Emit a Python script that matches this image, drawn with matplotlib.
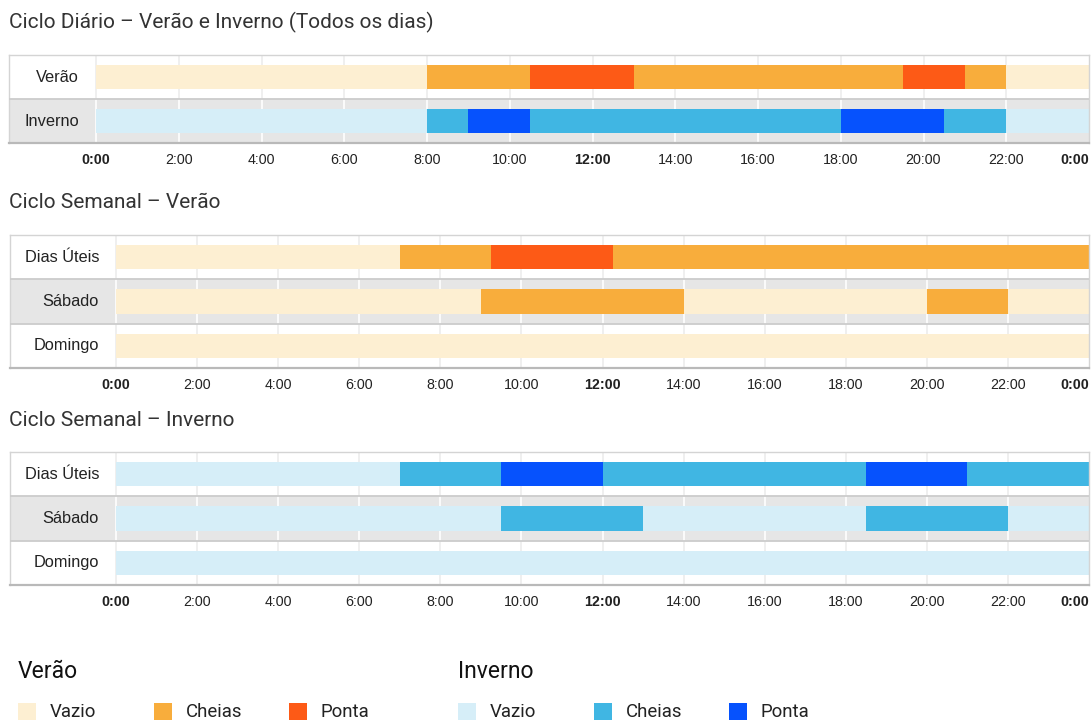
import matplotlib
matplotlib.use("Agg")
import matplotlib.pyplot as plt
from matplotlib import font_manager
from matplotlib.patches import Rectangle

W, H, DPI = 1092, 721, 100

# Hour axis
hour_ticks = list(range(0, 25, 2))
hour_labels = [f"{h % 24}:00" for h in hour_ticks]

# Tariff periods and colours
tariffs = ["Vazio", "Cheias", "Ponta"]
verao_colors = {"Vazio": "#fdefd2", "Cheias": "#f8ad3c", "Ponta": "#fd5a16"}
inverno_colors = {"Vazio": "#d6eef8", "Cheias": "#40b6e3", "Ponta": "#0652fd"}

# Ciclo diário (todos os dias)
diario_rows = ["Verão", "Inverno"]
diario_verao_horas = [0, 8, 10.5, 13, 19.5, 21, 22, 24]
diario_verao_periodos = ["Vazio", "Cheias", "Ponta", "Cheias", "Ponta", "Cheias", "Vazio"]
diario_inverno_horas = [0, 8, 9, 10.5, 18, 20.5, 22, 24]
diario_inverno_periodos = ["Vazio", "Cheias", "Ponta", "Cheias", "Ponta", "Cheias", "Vazio"]

# Ciclo semanal
semana_rows = ["Dias Úteis", "Sábado", "Domingo"]

sem_verao_uteis_horas = [0, 7, 9.25, 12.25, 24]
sem_verao_uteis_periodos = ["Vazio", "Cheias", "Ponta", "Cheias"]
sem_verao_sabado_horas = [0, 9, 14, 20, 22, 24]
sem_verao_sabado_periodos = ["Vazio", "Cheias", "Vazio", "Cheias", "Vazio"]
sem_verao_domingo_horas = [0, 24]
sem_verao_domingo_periodos = ["Vazio"]

sem_inverno_uteis_horas = [0, 7, 9.5, 12, 18.5, 21, 24]
sem_inverno_uteis_periodos = ["Vazio", "Cheias", "Ponta", "Cheias", "Ponta", "Cheias"]
sem_inverno_sabado_horas = [0, 9.5, 13, 18.5, 22, 24]
sem_inverno_sabado_periodos = ["Vazio", "Cheias", "Vazio", "Cheias", "Vazio"]
sem_inverno_domingo_horas = [0, 24]
sem_inverno_domingo_periodos = ["Vazio"]

available = {f.name for f in font_manager.fontManager.ttflist}
NARROW = "Liberation Sans Narrow" if "Liberation Sans Narrow" in available else None
TITLE_FONT = ["Roboto", "DejaVu Sans"]
LABEL_FONT = ["Liberation Sans", "DejaVu Sans"]

fig = plt.figure(figsize=(W / DPI, H / DPI), dpi=DPI)
fig.patch.set_facecolor("white")


def px_axes(left, top, right, bottom):
    return fig.add_axes([left / W, 1 - bottom / H, (right - left) / W, (bottom - top) / H])


def timeline(frame, zero_x, rows, series):
    left, top, right, bottom = frame
    ax = px_axes(left, top, right, bottom)
    px_per_h = (right - zero_x) / 24
    x0 = -(zero_x - left) / px_per_h
    n = len(rows)
    ax.set_xlim(x0, 24)
    ax.set_ylim(n, 0)
    ax.set_facecolor("white")

    for i in range(n):
        shaded = i % 2 == 1
        if shaded:
            ax.axhspan(i, i + 1, color="#e6e6e6", lw=0, zorder=0)
        ax.vlines(hour_ticks[:-1], i, i + 1,
                  colors="white" if shaded else "#ececec", lw=1.2, zorder=1)

    for i, (horas, periodos, palette) in enumerate(series):
        starts = horas[:-1]
        widths = [b - a for a, b in zip(horas[:-1], horas[1:])]
        ax.barh([i + 0.5] * len(starts), widths, left=starts, height=0.55,
                color=[palette[p] for p in periodos], lw=0, zorder=2)
        ax.text(-17 / px_per_h, i + 0.5, rows[i], ha="right", va="center",
                fontsize=11.8, color="#222222", family=LABEL_FONT)

    ax.hlines(range(1, n), x0, 24, colors="#cccccc", lw=1.3, zorder=3)
    for side in ("top", "left", "right"):
        ax.spines[side].set_color("#d4d4d4")
        ax.spines[side].set_linewidth(1)
    ax.spines["bottom"].set_color("#b9b9b9")
    ax.spines["bottom"].set_linewidth(1.6)

    ax.set_yticks([])
    ax.set_xticks(hour_ticks)
    ax.set_xticklabels(hour_labels, fontsize=10.3, color="#222222", family=LABEL_FONT)
    ax.tick_params(axis="x", length=0, pad=7.5)
    labels = ax.get_xticklabels()
    for h, lab in zip(hour_ticks, labels):
        if h % 12 == 0:
            lab.set_fontweight("bold")
    labels[-1].set_horizontalalignment("right")
    return ax


def title(y, text):
    fig.text(9 / W, 1 - y / H, text, ha="left", va="center", fontsize=15,
             color="#333333", family=TITLE_FONT)


title(22, "Ciclo Diário – Verão e Inverno (Todos os dias)")
timeline((9, 55, 1089, 143), 96, diario_rows,
         [(diario_verao_horas, diario_verao_periodos, verao_colors),
          (diario_inverno_horas, diario_inverno_periodos, inverno_colors)])

title(203, "Ciclo Semanal – Verão")
timeline((10, 235, 1089, 368), 116, semana_rows,
         [(sem_verao_uteis_horas, sem_verao_uteis_periodos, verao_colors),
          (sem_verao_sabado_horas, sem_verao_sabado_periodos, verao_colors),
          (sem_verao_domingo_horas, sem_verao_domingo_periodos, verao_colors)])

title(420, "Ciclo Semanal – Inverno")
timeline((10, 452, 1089, 585), 116, semana_rows,
         [(sem_inverno_uteis_horas, sem_inverno_uteis_periodos, inverno_colors),
          (sem_inverno_sabado_horas, sem_inverno_sabado_periodos, inverno_colors),
          (sem_inverno_domingo_horas, sem_inverno_domingo_periodos, inverno_colors)])

# Legend
if NARROW:
    head_font, head_size, item_font, item_size = [NARROW, "DejaVu Sans"], 17, [NARROW, "DejaVu Sans"], 14.5
else:
    head_font, head_size, item_font, item_size = TITLE_FONT, 16.5, TITLE_FONT, 13.4

for gx, name, colors in ((18, "Verão", verao_colors), (458, "Inverno", inverno_colors)):
    fig.text(gx / W, 1 - 672 / H, name, ha="left", va="center", fontsize=head_size,
             color="#111111", family=head_font)
    for k, t in enumerate(tariffs):
        x = gx + k * 135.5
        fig.patches.append(Rectangle((x / W, 1 - 720 / H), 18 / W, 17 / H,
                                     transform=fig.transFigure, color=colors[t], lw=0))
        fig.text((x + 32) / W, 1 - 712 / H, t, ha="left", va="center", fontsize=item_size,
                 color="#222222", family=item_font)

fig.savefig("out.png", dpi=DPI, facecolor="white")
